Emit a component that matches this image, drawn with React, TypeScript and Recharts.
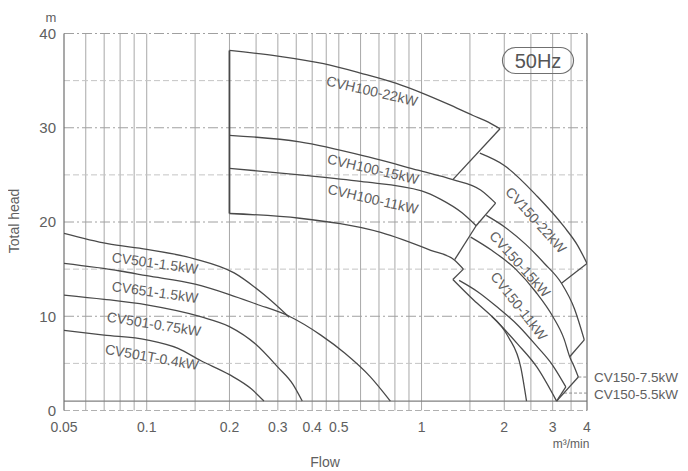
import React from "react";
import { LineChart, Line, XAxis, YAxis, ReferenceLine } from "recharts";

// ---- axis / grid values ----
const X_TICKS = [0.05, 0.1, 0.2, 0.3, 0.4, 0.5, 1, 2, 3, 4];
const Y_TICKS = [0, 10, 20, 30, 40];
const X_GRID = [0.06, 0.07, 0.08, 0.09, 0.1, 0.15, 0.2, 0.25, 0.3, 0.35, 0.4, 0.45, 0.5, 0.6, 0.7, 0.8, 0.9, 1, 1.5, 2, 2.5, 3, 3.5];
const Y_MAJOR = [10, 20, 30, 40];
const Y_MINOR = [5, 15, 25, 35];
const Y_MIN_LINE = 1;

// ---- small pumps ----
const CV501_15 = [[0.05, 18.8], [0.072, 17.7], [0.1, 17.1], [0.149, 16.1], [0.208, 14.6], [0.267, 12.3], [0.33, 9.9]];
const CV651_15 = [[0.05, 15.6], [0.08, 14.8], [0.1, 14.3], [0.15, 13.4], [0.2, 12.3], [0.25, 11.3], [0.33, 10.0], [0.43, 8.0], [0.525, 6.1], [0.65, 3.6], [0.77, 1.0]];
const CV501_075 = [[0.05, 12.25], [0.07, 11.8], [0.1, 11.2], [0.157, 9.95], [0.2, 8.9], [0.25, 7.0], [0.3, 4.6], [0.34, 2.8], [0.368, 1.0]];
const CV501T_04 = [[0.05, 8.5], [0.07, 8.0], [0.1, 7.5], [0.13, 6.6], [0.157, 5.3], [0.2, 3.8], [0.24, 2.3], [0.267, 1.0]];

// ---- CVH100 group ----
const CVH_EDGE = [[0.2, 20.9], [0.2, 38.2]];
const CVH100_22 = [[0.2, 38.2], [0.3, 37.6], [0.44, 36.8], [0.6, 35.8], [0.81, 34.7], [1.0, 33.7], [1.25, 32.5], [1.54, 31.3], [1.75, 30.6], [1.93, 29.9]];
const CVH100_22_END = [[1.93, 29.9], [1.3, 24.5]];
const CVH100_15 = [[0.2, 29.2], [0.36, 28.5], [0.64, 26.9], [0.97, 25.5], [1.3, 24.5], [1.64, 23.4], [1.86, 22.0]];
const CVH100_15_END = [[1.86, 22.0], [1.58, 19.6]];
const CVH100_11 = [[0.2, 25.7], [0.36, 25.0], [0.6, 24.3], [1.0, 23.3], [1.175, 22.4], [1.4, 21.0], [1.58, 19.6]];
const CVH100_11_END = [[1.58, 19.6], [1.32, 16.0]];
const CVH100_LOW = [[0.2, 20.9], [0.36, 20.4], [0.71, 18.9], [1.08, 17.0], [1.32, 15.95], [1.42, 15.0]];
const CVH100_LOW_END = [[1.42, 15.0], [1.3, 13.9]];

// ---- CV150 group ----
const CV150_22 = [[1.63, 27.3], [2.0, 26.0], [2.64, 22.7], [3.3, 19.5], [3.7, 17.5], [4.0, 15.6]];
const CV150_22_END = [[4.0, 15.6], [3.23, 13.5]];
const CV150_15 = [[1.72, 20.7], [2.0, 19.5], [2.4, 17.6], [2.8, 15.6], [3.23, 13.5], [3.6, 10.8], [3.91, 7.5]];
const CV150_15_END = [[3.91, 7.5], [3.46, 5.7]];
const CV150_11 = [[1.51, 18.4], [1.8, 17.0], [2.2, 15.0], [2.6, 12.6], [3.0, 10.0], [3.3, 7.6], [3.46, 5.7], [3.6, 4.6], [3.72, 3.55]];
const CV150_11_END = [[3.72, 3.55], [3.1, 1.0]];
const CV150_75 = [[1.37, 13.8], [1.6, 12.6], [1.88, 11.0], [2.25, 9.0], [2.63, 6.8], [3.0, 4.8], [3.35, 2.5]];
const CV150_75_END = [[3.35, 2.5], [3.1, 1.0]];
const CV150_55 = [[1.3, 13.9], [1.55, 11.7], [1.8, 10.0], [2.23, 7.1], [2.63, 4.6], [3.1, 1.0]];
const CV150_55_LOW = [[1.8, 10.0], [2.07, 7.8], [2.3, 4.5], [2.41, 1.0]];

const toPts = (a: number[][]) => a.map(([x, y]) => ({ x, y }));

const SERIES: { id: string; data: number[][]; curve: boolean }[] = [
  { id: "s1", data: CV501_15, curve: true },
  { id: "s2", data: CV651_15, curve: true },
  { id: "s3", data: CV501_075, curve: true },
  { id: "s4", data: CV501T_04, curve: true },
  { id: "edge", data: CVH_EDGE, curve: false },
  { id: "c1", data: CVH100_22, curve: true },
  { id: "c1e", data: CVH100_22_END, curve: false },
  { id: "c2", data: CVH100_15, curve: true },
  { id: "c2e", data: CVH100_15_END, curve: false },
  { id: "c3", data: CVH100_11, curve: true },
  { id: "c3e", data: CVH100_11_END, curve: false },
  { id: "c4", data: CVH100_LOW, curve: true },
  { id: "c4e", data: CVH100_LOW_END, curve: false },
  { id: "a", data: CV150_22, curve: true },
  { id: "ae", data: CV150_22_END, curve: false },
  { id: "b", data: CV150_15, curve: true },
  { id: "be", data: CV150_15_END, curve: false },
  { id: "c", data: CV150_11, curve: true },
  { id: "ce", data: CV150_11_END, curve: false },
  { id: "d", data: CV150_75, curve: true },
  { id: "de", data: CV150_75_END, curve: false },
  { id: "e", data: CV150_55, curve: true },
  { id: "f", data: CV150_55_LOW, curve: true },
];

const CURVE_LABELS = [
  { t: "CVH100-22kW", x: 364, y: 83, r: 13 },
  { t: "CVH100-15kW", x: 365, y: 161, r: 13 },
  { t: "CVH100-11kW", x: 365, y: 191, r: 13 },
  { t: "CV150-22kW", x: 528, y: 212, r: 48 },
  { t: "CV150-15kW", x: 512, y: 256, r: 48 },
  { t: "CV150-11kW", x: 511, y: 298, r: 52 },
  { t: "CV501-1.5kW", x: 147, y: 255, r: 8 },
  { t: "CV651-1.5kW", x: 147, y: 284, r: 8 },
  { t: "CV501-0.75kW", x: 146, y: 316, r: 9 },
  { t: "CV501T-0.4kW", x: 144, y: 349, r: 10 },
];

const FONT = "'Liberation Sans', Arial, sans-serif";
const INK = "#4a4a4a";
const TXT = "#606060";

export default function App() {
  return (
    <div style={{ position: "relative", width: 680, height: 463, fontFamily: FONT }}>
      <LineChart width={680} height={463} margin={{ top: 25.5, right: 101, left: 0, bottom: 30.5 }}>
        <XAxis
          type="number"
          dataKey="x"
          scale="log"
          domain={[0.05, 4]}
          ticks={X_TICKS}
          allowDataOverflow
          axisLine={false}
          tickLine={false}
          tickMargin={6}
          height={30}
          tick={{ fill: TXT, fontSize: 14, fontFamily: FONT }}
        />
        <YAxis
          type="number"
          dataKey="y"
          domain={[0, 40]}
          ticks={Y_TICKS}
          allowDataOverflow
          axisLine={false}
          tickLine={false}
          tickMargin={2}
          width={56}
          tick={{ fill: TXT, fontSize: 15, fontFamily: FONT }}
        />
        {X_GRID.map((v) => (
          <ReferenceLine key={"vx" + v} x={v} stroke="#a8a8a8" strokeWidth={1} />
        ))}
        {Y_MINOR.map((v) => (
          <ReferenceLine key={"ym" + v} y={v} stroke="#c4c4c4" strokeDasharray="6 3" strokeWidth={1} />
        ))}
        {Y_MAJOR.map((v) => (
          <ReferenceLine key={"yM" + v} y={v} stroke="#a0a0a0" strokeDasharray="10 3 2 3" strokeWidth={1} />
        ))}
        <ReferenceLine y={0} stroke="#b0b0b0" strokeDasharray="6 3" />
        <ReferenceLine y={Y_MIN_LINE} stroke="#808080" strokeWidth={1.2} />
        <ReferenceLine x={0.05} stroke="#707070" strokeWidth={1.2} />
        <ReferenceLine x={4} stroke="#707070" strokeWidth={1.2} />
        <ReferenceLine segment={[{ x: 3.72, y: 3.55 }, { x: 4, y: 3.55 }]} stroke="#909090" strokeDasharray="3 2" />
        <ReferenceLine segment={[{ x: 3.3, y: 1.85 }, { x: 4, y: 1.85 }]} stroke="#909090" strokeDasharray="3 2" />
        {SERIES.map((s) => (
          <Line
            key={s.id}
            data={toPts(s.data)}
            dataKey="y"
            type={s.curve ? "monotone" : "linear"}
            stroke={INK}
            strokeWidth={s.id === "edge" ? 1.8 : 1.3}
            dot={false}
            activeDot={false}
            isAnimationActive={false}
          />
        ))}
      </LineChart>
      <svg width={680} height={463} style={{ position: "absolute", left: 0, top: 0, overflow: "visible", pointerEvents: "none" }}>
        <g fontFamily={FONT} fill={TXT}>
          <text x={43} y={14} fontSize={13} textAnchor="middle">m</text>
          <text x={6} y={213} fontSize={14} textAnchor="middle" dominantBaseline="central" transform="rotate(-90 6 213)">Total head</text>
          <text x={317} y={459} fontSize={14} textAnchor="middle">Flow</text>
          <text x={563} y={440} fontSize={12} textAnchor="middle">m³/min</text>
          <rect x={494.5} y={39.5} width={71} height={26} rx={13} ry={13} fill="none" stroke="#707070" strokeWidth={1.2} />
          <text x={530} y={60} fontSize={20} textAnchor="middle" fill="#555">50Hz</text>
          <text x={586} y={374} fontSize={13.5}>CV150-7.5kW</text>
          <text x={586} y={391} fontSize={13.5}>CV150-5.5kW</text>
          {CURVE_LABELS.map((l) => (
            <text
              key={l.t}
              x={l.x}
              y={l.y}
              fontSize={14}
              textAnchor="middle"
              dominantBaseline="central"
              transform={`rotate(${l.r} ${l.x} ${l.y})`}
            >
              {l.t}
            </text>
          ))}
        </g>
      </svg>
    </div>
  );
}
